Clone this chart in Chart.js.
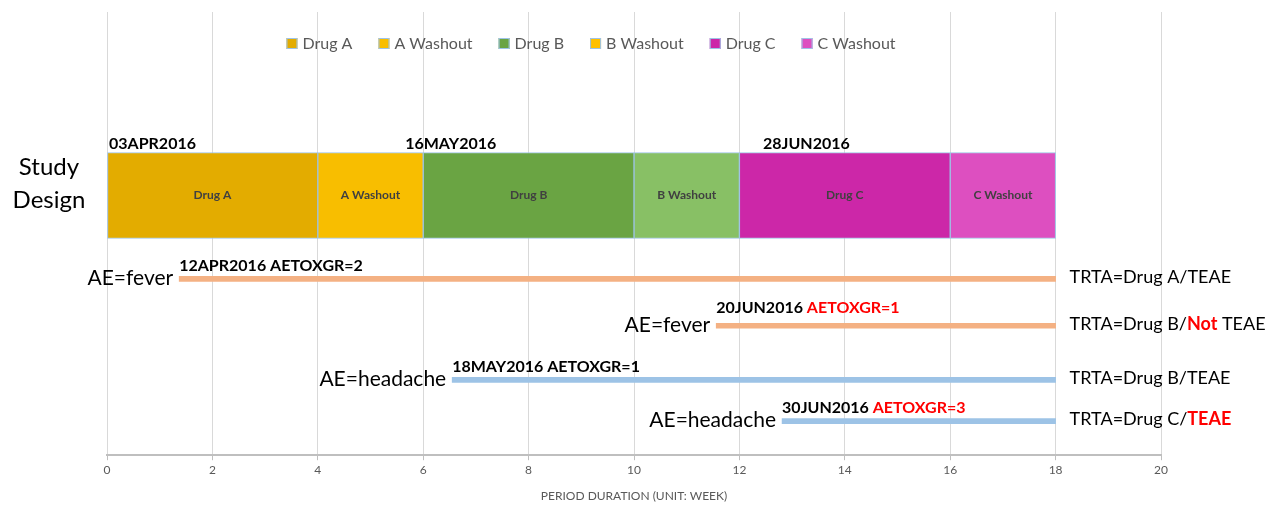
<!DOCTYPE html>
<html>
<head>
<meta charset="utf-8">
<script src="https://cdn.jsdelivr.net/npm/chart.js@4.4.1/dist/chart.umd.min.js"></script>
<style>
    body { margin: 0; background: #fff; }
    #wrap { width: 1275px; height: 506px; }
</style>
</head>
<body>
<div id="wrap"><canvas id="grafico"></canvas></div>
<script>
// fases do desenho do estudo (semanas)
const fases = ['Drug A', 'A Washout', 'Drug B', 'B Washout', 'Drug C', 'C Washout'];
const faseInicio = [0, 4, 6, 10, 12, 16];
const faseFim = [4, 6, 10, 12, 16, 18];
const faseCores = ['#e3ac00', '#f8be00', '#6aa443', '#88c065', '#cc27a8', '#dd4fc0'];
// a legenda original usa amarelo para "B Washout"
const legendaCores = ['#e3ac00', '#f8be00', '#6aa443', '#ffc000', '#cc27a8', '#dd4fc0'];
const linhaDesenho = 4.14;

// datas marcadas acima da barra
const datasDesenho = ['03APR2016', '16MAY2016', '28JUN2016'];
const datasDesenhoX = [0, 5.62, 12.41];

// eventos adversos
const aeTermo = ['fever', 'fever', 'headache', 'headache'];
const aeInicio = [1.37, 11.56, 6.55, 12.81];
const aeFim = [18, 18, 18, 18];
const aeLinha = [6.02, 7.08, 8.30, 9.23];
const aeData = ['12APR2016', '20JUN2016', '18MAY2016', '30JUN2016'];
const aeGrau = [2, 1, 1, 3];
const aeGrauDestaque = [false, true, false, true];
const aeTrta = ['Drug A', 'Drug B', 'Drug B', 'Drug C'];
const aeTeae = ['TEAE', 'TEAE', 'TEAE', 'TEAE'];
const aeNot = [false, true, false, false];
const aeTeaeDestaque = [false, false, false, true];
const aeCores = { fever: '#f4b183', headache: '#9dc3e6' };

const xTicks = [0, 2, 4, 6, 8, 10, 12, 14, 16, 18, 20];

const FONTE = 'Lato, "Open Sans", sans-serif';
Chart.defaults.font.family = FONTE;

var datasets = [];
for (i = 0; i < fases.length; i++) {
    datasets.push({
        label: fases[i],
        data: [{ x: [faseInicio[i], faseFim[i]], y: linhaDesenho }],
        backgroundColor: faseCores[i],
        borderColor: '#9dc3e6',
        borderWidth: 1,
        borderSkipped: false,
        barThickness: 86,
        grouped: false
    });
}
var aeDados = [];
var aeCoresPonto = [];
for (i = 0; i < aeTermo.length; i++) {
    aeDados.push({ x: [aeInicio[i], aeFim[i]], y: aeLinha[i] });
    aeCoresPonto.push(aeCores[aeTermo[i]]);
}
datasets.push({
    label: 'AE',
    data: aeDados,
    backgroundColor: aeCoresPonto,
    borderWidth: 0,
    barThickness: 5,
    grouped: false
});

// escreve pedaços de texto em sequência, cada um com cor/fonte própria
function escreverPartes(ctx, partes, x, y) {
    partes.forEach(p => {
        ctx.font = p.font;
        ctx.fillStyle = p.cor;
        ctx.fillText(p.txt, x, y);
        x += ctx.measureText(p.txt).width;
    });
}

const textosPlugin = {
    id: 'textos',
    afterDatasetsDraw(chart) {
        const ctx = chart.ctx;
        const xs = chart.scales.x;
        const ys = chart.scales.y;
        const area = chart.chartArea;
        ctx.save();

        // legenda
        ctx.font = '16px ' + FONTE;
        ctx.textBaseline = 'middle';
        var larguras = fases.map(f => ctx.measureText(f).width);
        var total = 0;
        larguras.forEach(w => total += 11 + 5 + w);
        total += 26 * (fases.length - 1);
        var lx = 591 - total / 2;
        for (i = 0; i < fases.length; i++) {
            ctx.fillStyle = legendaCores[i];
            ctx.fillRect(lx, 38, 11, 11);
            ctx.strokeStyle = '#9dc3e6';
            ctx.lineWidth = 1;
            ctx.strokeRect(lx + 0.5, 38.5, 10, 10);
            ctx.fillStyle = '#595959';
            ctx.textAlign = 'left';
            ctx.fillText(fases[i], lx + 16, 44);
            lx += 16 + larguras[i] + 26;
        }

        // Study Design
        const yD = ys.getPixelForValue(linhaDesenho);
        ctx.fillStyle = '#000';
        ctx.font = '24px ' + FONTE;
        ctx.textAlign = 'center';
        ctx.fillText('Study', area.left - 58, yD - 28);
        ctx.fillText('Design', area.left - 58, yD + 5);

        // rótulos dentro das barras
        ctx.font = 'bold 12px ' + FONTE;
        ctx.fillStyle = '#404040';
        for (i = 0; i < fases.length; i++) {
            const cx = (xs.getPixelForValue(faseInicio[i]) + xs.getPixelForValue(faseFim[i])) / 2;
            ctx.fillText(fases[i], cx, yD);
        }

        // datas acima da barra
        ctx.font = 'bold 16px ' + FONTE;
        ctx.fillStyle = '#000';
        ctx.textAlign = 'left';
        for (i = 0; i < datasDesenho.length; i++) {
            ctx.fillText(datasDesenho[i], xs.getPixelForValue(datasDesenhoX[i]) + 2, yD - 52);
        }

        // eventos adversos
        for (i = 0; i < aeTermo.length; i++) {
            const y = ys.getPixelForValue(aeLinha[i]);
            const x0 = xs.getPixelForValue(aeInicio[i]);
            const x1 = xs.getPixelForValue(aeFim[i]);

            ctx.font = '21px ' + FONTE;
            ctx.fillStyle = '#000';
            ctx.textAlign = 'right';
            ctx.fillText('AE=' + aeTermo[i], x0 - 6, y - 1);

            ctx.textAlign = 'left';
            const dy = (i == 1) ? 18 : 13;
            escreverPartes(ctx, [
                { txt: aeData[i] + ' ', font: 'bold 16px ' + FONTE, cor: '#000' },
                { txt: 'AETOXGR=' + aeGrau[i], font: 'bold 16px ' + FONTE, cor: aeGrauDestaque[i] ? '#ff0000' : '#000' }
            ], x0, y - dy);

            var partes = [{ txt: 'TRTA=' + aeTrta[i] + '/', font: '18px ' + FONTE, cor: '#000' }];
            if (aeNot[i]) {
                partes.push({ txt: 'Not', font: 'bold 18px ' + FONTE, cor: '#ff0000' });
                partes.push({ txt: ' ', font: '18px ' + FONTE, cor: '#000' });
            }
            partes.push({
                txt: aeTeae[i],
                font: (aeTeaeDestaque[i] ? 'bold ' : '') + '18px ' + FONTE,
                cor: aeTeaeDestaque[i] ? '#ff0000' : '#000'
            });
            escreverPartes(ctx, partes, x1 + 14, y - 2);
        }
        ctx.restore();
    }
};

new Chart(document.getElementById('grafico'), {
    type: 'bar',
    data: { datasets: datasets },
    options: {
        indexAxis: 'y',
        responsive: true,
        maintainAspectRatio: false,
        animation: false,
        layout: { padding: { left: 107, right: 114, top: 12, bottom: 1 } },
        plugins: {
            legend: { display: false },
            tooltip: { enabled: false }
        },
        scales: {
            x: {
                type: 'linear',
                min: 0,
                max: 20,
                afterBuildTicks: (axis) => { axis.ticks = xTicks.map(v => ({ value: v })); },
                grid: { color: '#d9d9d9', tickColor: '#bfbfbf', tickLength: 5 },
                border: { color: '#bfbfbf', width: 2 },
                ticks: { color: '#595959', font: { size: 12 }, padding: 3 },
                title: {
                    display: true,
                    text: 'PERIOD DURATION (UNIT: WEEK)',
                    color: '#595959',
                    font: { size: 12 },
                    padding: { top: 8, bottom: 2 }
                }
            },
            y: {
                type: 'linear',
                display: false,
                reverse: true,
                min: 0,
                max: 10,
                offset: false
            }
        }
    },
    plugins: [textosPlugin]
});
</script>
</body>
</html>
